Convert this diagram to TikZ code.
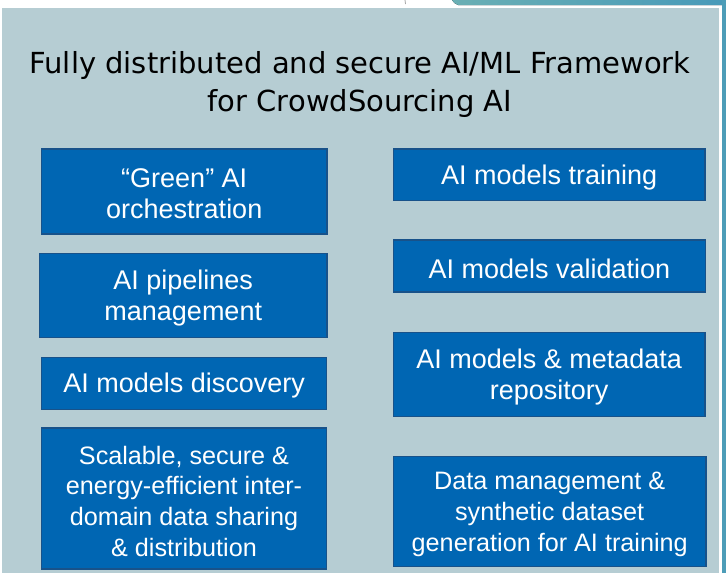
\documentclass[tikz,border=0pt]{standalone}
\usepackage{fontspec}
\setmainfont{Liberation Sans}
\newfontfamily\titlefont{DejaVu Sans}
\newfontfamily\boxfont{Liberation Sans}
\definecolor{panelbg}{RGB}{182,205,211}
\definecolor{boxfill}{RGB}{0,102,179}
\definecolor{boxedge}{RGB}{24,82,138}
\definecolor{tealA}{RGB}{106,175,180}
\definecolor{tealB}{RGB}{72,154,185}
\tikzset{
  blockbox/.style={draw=boxedge, line width=1.4pt, fill=boxfill, inner sep=0pt},
  blocktext/.style={text=white, align=center, inner sep=0pt,
    font=\boxfont\fontsize{27}{31}\selectfont},
  smalltext/.style={blocktext, font=\boxfont\fontsize{25.2}{30.7}\selectfont},
}
% text sits a little below the geometric centre of each box
\newcommand{\txtdrop}{-2.7pt}
\begin{document}
\begin{tikzpicture}[x=1pt,y=-1pt]
  \useasboundingbox (0,0) rectangle (726,573);
  \fill[white] (0,0) rectangle (726,573);
  % teal slide decoration peeking out at the top right and right edge
  \fill[left color=tealA, right color=tealB] (452,0) .. controls (453,2) and (455,4) .. (458,5) -- (726,5) -- (726,0) -- cycle;
  \fill[tealB!85!tealA] (722,0) rectangle (726,573);
  \draw[gray!70, line width=0.8pt] (405,0) -- (405.5,4);
  % main panel
  \fill[panelbg] (2,8) rectangle (719,573);

  % title
  \node[font=\titlefont\fontsize{29}{38}\selectfont, align=center, text=black] (title) at (360,84.5)
    {Fully distributed and secure AI/ML Framework\\for CrowdSourcing AI};

  % left column
  \node[blockbox, minimum width=285.5, minimum height=85] (green) at (184.25,191.5) {};
  \node[blocktext] (green-t) at ([yshift=\txtdrop]green.center) {“Green” AI\\orchestration};
  \node[blockbox, minimum width=287.5, minimum height=84] (pipe) at (183.25,295.5) {};
  \node[blocktext] (pipe-t) at ([yshift=\txtdrop]pipe.center) {AI pipelines\\management};
  \node[blockbox, minimum width=285, minimum height=52] (disc) at (184.2,383.3) {};
  \node[blocktext] (disc-t) at ([yshift=\txtdrop]disc.center) {AI models discovery};
  \node[blockbox, minimum width=285, minimum height=141] (share) at (184,498.5) {};
  \node[smalltext] (share-t) at ([yshift=\txtdrop]share.center)
    {Scalable, secure \&\\energy-efficient inter-\\domain data sharing\\\& distribution};

  % right column
  \node[blockbox, minimum width=311.7, minimum height=51.7] (train) at (549.2,174.9) {};
  \node[blocktext] (train-t) at ([yshift=\txtdrop]train.center) {AI models training};
  \node[blockbox, minimum width=312, minimum height=52] (valid) at (549.4,266) {};
  \node[blocktext] (valid-t) at ([yshift=\txtdrop]valid.center) {AI models validation};
  \node[blockbox, minimum width=311.7, minimum height=84.4] (repo) at (549.2,374.5) {};
  \node[blocktext] (repo-t) at ([yshift=\txtdrop]repo.center) {AI models \& metadata\\repository};
  \node[blockbox, minimum width=312.5, minimum height=110] (data) at (549.7,511.7) {};
  \node[smalltext] (data-t) at ([yshift=\txtdrop]data.center)
    {Data management \&\\synthetic dataset\\generation for AI training};
\end{tikzpicture}
\end{document}
